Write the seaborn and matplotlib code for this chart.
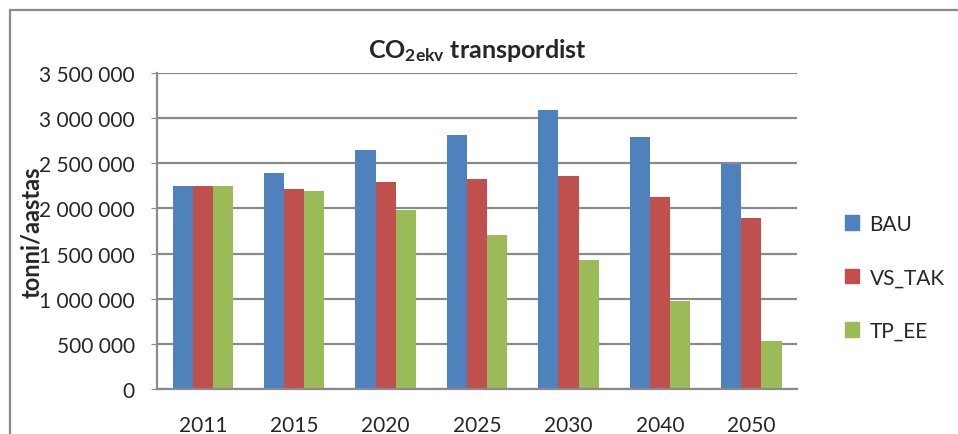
import pandas as pd
import matplotlib.pyplot as plt
import matplotlib.patches as mpatches
from matplotlib.ticker import FuncFormatter, MultipleLocator
import seaborn as sns

# Data
years = ["2011", "2015", "2020", "2025", "2030", "2040", "2050"]
bau = [2245000, 2391000, 2650000, 2816000, 3089000, 2790000, 2487000]
vs_tak = [2245000, 2217000, 2295000, 2324000, 2358000, 2125000, 1892000]
tp_ee = [2245000, 2195000, 1985000, 1707000, 1430000, 979000, 528000]
scenarios = ["BAU", "VS_TAK", "TP_EE"]
colors = ["#4F81BD", "#C0504D", "#9BBB59"]

df = pd.DataFrame({"Aasta": years * 3,
                   "Stsenaarium": [s for s in scenarios for _ in years],
                   "Heide": bau + vs_tak + tp_ee})

sns.set_style("white")
plt.rcParams['font.family'] = ['Lato', 'DejaVu Sans']
plt.rcParams['mathtext.fontset'] = 'custom'
plt.rcParams['mathtext.bf'] = 'Lato:bold'
plt.rcParams['mathtext.rm'] = 'Lato'

fig = plt.figure(figsize=(9.58, 4.35), dpi=100)
ax = fig.add_axes([0.164, 0.1034, 0.668, 0.7266])

sns.barplot(data=df, x="Aasta", y="Heide", hue="Stsenaarium",
            palette=colors, width=0.66, gap=0, saturation=1,
            linewidth=0, ax=ax, legend=False)

ax.set_ylim(0, 3500000)
ax.yaxis.set_major_locator(MultipleLocator(500000))
ax.yaxis.set_major_formatter(FuncFormatter(lambda v, p: f"{int(v):,}".replace(",", " ")))
ax.grid(axis="y", color="#8a8a8a", linewidth=1.6)
ax.set_axisbelow(True)
for side in ["top", "right"]:
    ax.spines[side].set_visible(False)
for side in ["left", "bottom"]:
    ax.spines[side].set_color("#8a8a8a")
    ax.spines[side].set_linewidth(1.6)

ax.tick_params(axis="y", labelsize=15, length=4, color="#8a8a8a", pad=12, left=True)
ax.tick_params(axis="x", labelsize=15, length=0, pad=19)
ax.set_xlabel("")
ax.set_ylabel("tonni/aastas", fontsize=17, fontweight="bold")
ax.yaxis.set_label_coords(-0.178, 0.5)

fig.text(0.498, 0.885, r"CO$\mathbf{_{2ekv}}$ transpordist", ha="center", va="center",
         fontsize=18, fontweight="bold")

handles = [mpatches.Patch(color=c, label=s) for c, s in zip(colors, scenarios)]
fig.legend(handles=handles, loc="center left", bbox_to_anchor=(0.862, 0.36),
           frameon=False, fontsize=15, labelspacing=1.6, handlelength=0.7,
           handleheight=0.7, handletextpad=0.5)

# outer chart frame
fig.patches.append(mpatches.Rectangle((10 / 958, -0.1), 1.2, 1.1 - 11 / 435,
                                      transform=fig.transFigure, fill=False,
                                      edgecolor="#8a8a8a", linewidth=1.6))

fig.savefig("out.png", dpi=100)
